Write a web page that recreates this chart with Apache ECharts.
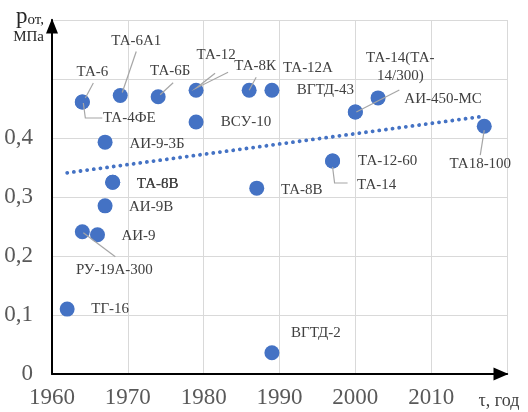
<!DOCTYPE html>
<html>
<head>
<meta charset="utf-8">
<script src="https://cdn.jsdelivr.net/npm/echarts@6/dist/echarts.min.js"></script>
<style>html,body{margin:0;padding:0;background:#fff;}#c{width:528px;height:412px;}</style>
</head>
<body>
<div id="c"></div>
<script>
// ---- data ----
var names = ['ТА-6','ТА-4ФЕ','ТА-6А1','ТА-6Б','ТА-12','ТА-8К','ТА-12А','ВСУ-10','АИ-9-3Б','ТА-8В','ТА-6В','ТА-8В','АИ-9В','АИ-9','РУ-19А-300','ТГ-16','ВГТД-2','ТА-12-60','ТА-14','ВГТД-43','ТА-14(ТА-\n14/300)','АИ-450-МС','ТА18-100'];
var years = [1964,1964,1969,1974,1979,1986,1989,1979,1967,1968,1968,1987,1967,1966,1964,1962,1989,1997,1997,2000,2000,2003,2017];
var pressures = [0.461,0.461,0.472,0.470,0.481,0.481,0.481,0.427,0.393,0.325,0.325,0.315,0.285,0.236,0.241,0.110,0.036,0.361,0.361,0.444,0.444,0.468,0.420];
var trendYears = [1962, 2017];
var trendValues = [0.341, 0.437];
var xTicks = [1960,1970,1980,1990,2000,2010];
var yTicks = ['0','0,1','0,2','0,3','0,4'];

// ---- label placement (style, relative to each point, px) ----
var labelOffsets = [[10,-30],[47,16],[16,-54],[12,-26],[20,-35],[6,-24],[36,-22],[50,0],[52,2],[45,2],[45,2],[45,2],[46,1],[41,1],[32,38],[43,0],[44,-20],[55,0],[44,24],[-30,-22],[45,-45],[65,1],[-4,38]];
var leaderLines = [
  [[3,-4],[11,-19]],
  [[1,1],[3,16],[20,16]],
  [[2,-3],[16,-44]],
  [[2,-2],[15,-14]],
  [[19,-17],[0,-2],[32,-18]],
  [[0,0],[7,-13]],
  null,null,null,null,null,null,null,null,
  [[1,1],[33,25]],
  null,null,null,
  [[0,6],[2,22],[15,22]],
  null,
  [[1,0],[44,-22]],
  null,
  [[0,4],[-4,29]]
];

var scatterData = names.map(function (n, i) { return { name: n, value: [years[i], pressures[i]] }; });
var trendData = trendYears.map(function (y, i) { return [y, trendValues[i]]; });

var FONT = "'Liberation Serif', 'Times New Roman', serif";
var chart = echarts.init(document.getElementById('c'), null, { renderer: 'canvas' });
chart.setOption({
  animation: false,
  backgroundColor: '#fff',
  textStyle: { fontFamily: FONT },
  grid: { left: 52, right: 21, top: 20, bottom: 38, containLabel: false },
  xAxis: {
    type: 'value', min: 1960, max: 2020, interval: 10,
    axisLine: { show: true, lineStyle: { color: '#000', width: 2 }, symbol: ['none', 'triangle'], symbolSize: [13, 15], symbolOffset: [0, -6] },
    axisTick: { show: false },
    splitLine: { show: true, lineStyle: { color: '#d9d9d9', width: 1 } },
    axisLabel: {
      margin: 12, fontFamily: FONT, fontSize: 23, color: '#595959',
      formatter: function (v) { return xTicks.indexOf(v) >= 0 ? String(v) : ''; }
    }
  },
  yAxis: {
    type: 'value', min: 0, max: 0.6, interval: 0.1,
    axisLine: { show: true, lineStyle: { color: '#000', width: 2 }, symbol: ['none', 'triangle'], symbolSize: [12, 15], symbolOffset: [0, -6] },
    axisTick: { show: false },
    splitLine: { show: true, lineStyle: { color: '#d9d9d9', width: 1 } },
    axisLabel: {
      margin: 19, fontFamily: FONT, fontSize: 23, color: '#595959',
      formatter: function (v) { var k = Math.round(v * 10); return k < yTicks.length ? yTicks[k] : ''; }
    }
  },
  graphic: [
    {
      type: 'text', x: 44, y: 6, z: 10,
      style: {
        text: '{p|p}{s|от,}\n{m|МПа}',
        align: 'right', verticalAlign: 'top',
        fill: '#262626', font: '15px ' + FONT,
        rich: {
          p: { fontSize: 23, lineHeight: 22, fontFamily: FONT, fill: '#262626' },
          s: { fontSize: 15, lineHeight: 22, fontFamily: FONT, fill: '#262626', verticalAlign: 'bottom' },
          m: { fontSize: 15, lineHeight: 19, fontFamily: FONT, fill: '#262626' }
        }
      }
    },
    {
      type: 'text', x: 499, y: 401, z: 10,
      style: { text: 'τ, год', align: 'center', verticalAlign: 'middle', fill: '#404040', font: '18px ' + FONT }
    }
  ],
  series: [
    {
      type: 'line', data: trendData, symbol: 'none', silent: true, z: 2,
      lineStyle: { color: '#4472C4', width: 3.8, type: [0.1, 6.6], cap: 'round' }
    },
    {
      type: 'scatter', data: scatterData, symbolSize: 15, z: 3,
      itemStyle: { color: '#4472C4', opacity: 1 },
      label: {
        show: true, formatter: '{b}', position: 'inside',
        fontFamily: FONT, fontSize: 15, lineHeight: 18, color: '#404040'
      },
      labelLayout: function (p) {
        var o = labelOffsets[p.dataIndex];
        return {
          x: p.rect.x + p.rect.width / 2 + o[0],
          y: p.rect.y + p.rect.height / 2 + o[1],
          align: 'center', verticalAlign: 'middle'
        };
      }
    },
    {
      // leader lines for labels, anchored at each point through the axes
      type: 'custom', z: 4, silent: true,
      data: years.map(function (y, i) { return [y, pressures[i]]; }),
      encode: { x: 0, y: 1 },
      renderItem: function (params, api) {
        var ll = leaderLines[params.dataIndex];
        if (!ll) return null;
        var c = api.coord([api.value(0), api.value(1)]);
        return {
          type: 'polyline',
          shape: { points: ll.map(function (q) { return [c[0] + q[0], c[1] + q[1]]; }) },
          style: { stroke: '#a6a6a6', lineWidth: 1.2, fill: null }
        };
      }
    }
  ]
});
</script>
</body>
</html>
